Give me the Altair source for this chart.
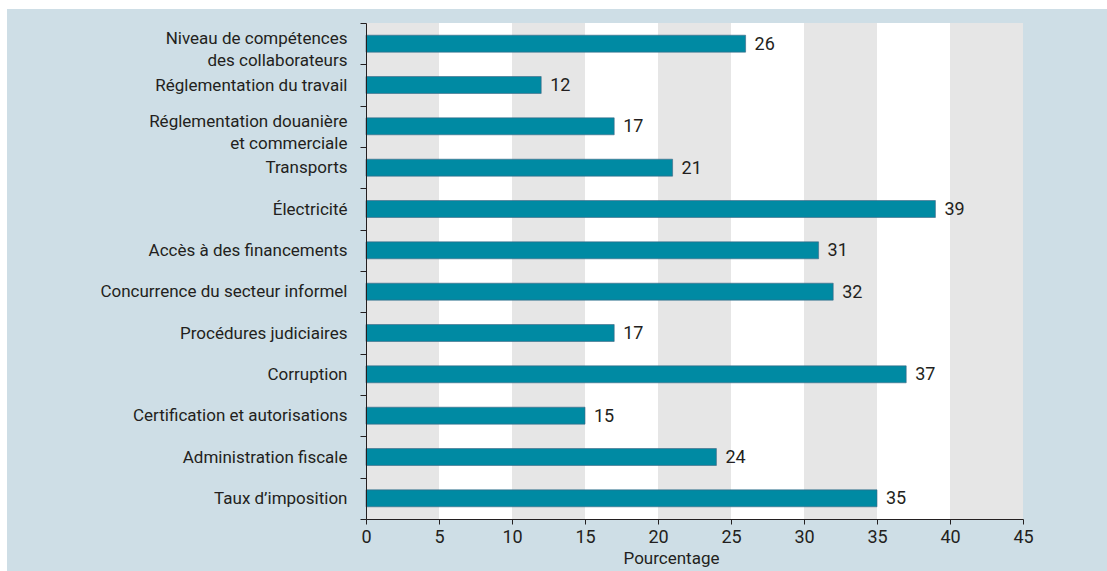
import altair as alt
import pandas as pd

# Obstacles (top to bottom); "|" marks a line break in the axis label
categories = [
    "Niveau de compétences|des collaborateurs",
    "Réglementation du travail",
    "Réglementation douanière|et commerciale",
    "Transports",
    "Électricité",
    "Accès à des financements",
    "Concurrence du secteur informel",
    "Procédures judiciaires",
    "Corruption",
    "Certification et autorisations",
    "Administration fiscale",
    "Taux d’imposition",
]
values = [26, 12, 17, 21, 39, 31, 32, 17, 37, 15, 24, 35]

# Alternating vertical bands behind the bars
band_starts = [0, 5, 10, 15, 20, 25, 30, 35, 40]
band_ends = [5, 10, 15, 20, 25, 30, 35, 40, 45]
band_kind = ["gris", "blanc", "gris", "blanc", "gris", "blanc", "gris", "blanc", "gris"]

x_ticks = [0, 5, 10, 15, 20, 25, 30, 35, 40, 45]

FONT = "Roboto"
TEXT = "#231f20"
BAR = "#008aa3"
PANEL = "#cedee6"

bars_df = pd.DataFrame({"categorie": categories, "pct": values})
bands_df = pd.DataFrame({"debut": band_starts, "fin": band_ends, "teinte": band_kind})

x_scale = alt.Scale(domain=[0, 45], nice=False, zero=True)
x_axis = alt.Axis(
    values=x_ticks,
    title="Pourcentage",
    grid=False,
    domainColor=TEXT,
    tickColor=TEXT,
    tickSize=5,
    labelPadding=4,
    labelFlush=False,
    labelFontSize=18,
    labelColor=TEXT,
    titleFontSize=17,
    titleFontWeight="normal",
    titleColor=TEXT,
    titleX=305,
    titleY=44,
    titleBaseline="alphabetic",
    zindex=1,
)

y_enc = alt.Y(
    "categorie:N",
    sort=categories,
    scale=alt.Scale(paddingInner=0, paddingOuter=0),
    axis=alt.Axis(
        title=None,
        labelExpr="split(datum.label, '|')",
        labelFontSize=17,
        labelLineHeight=22,
        labelLimit=0,
        labelColor=TEXT,
        labelPadding=13,
        labelBaseline={
            "condition": {"test": "indexof(datum.label, '|') >= 0", "value": "alphabetic"},
            "value": "middle",
        },
        tickSize=6,
        tickBand="extent",
        tickColor=TEXT,
        domainColor=TEXT,
        zindex=1,
    ),
)

# Light blue panel framing the whole figure
panel = alt.Chart(alt.Data(values=[{"p": 1}])).mark_rect(fill=PANEL).encode(
    x=alt.value(-359), x2=alt.value(741), y=alt.value(-14), y2=alt.value(548)
)

bands = alt.Chart(bands_df).mark_rect().encode(
    x=alt.X("debut:Q", scale=x_scale, axis=x_axis),
    x2="fin:Q",
    color=alt.Color(
        "teinte:N",
        scale=alt.Scale(domain=["gris", "blanc"], range=["#e6e6e6", "#ffffff"]),
        legend=None,
    ),
)

bars = alt.Chart(bars_df).mark_bar(
    height={"band": 0.41}, color=BAR, stroke="#3f6583", strokeWidth=0.6
).encode(
    x=alt.X("pct:Q", scale=x_scale, axis=x_axis),
    y=y_enc,
)

labels = alt.Chart(bars_df).mark_text(
    align="left", baseline="middle", dx=9, dy=1, fontSize=18, color=TEXT, font=FONT
).encode(
    x=alt.X("pct:Q", scale=x_scale, axis=x_axis),
    y=y_enc,
    text="pct:Q",
)

chart = (
    alt.layer(panel, bands, bars, labels)
    .properties(
        width=657,
        height=496,
        autosize=alt.AutoSizeParams(type="none"),
        padding={"left": 366, "top": 23, "right": 84, "bottom": 52},
        background="white",
    )
    .configure_view(stroke=None)
    .configure_axis(labelFont=FONT, titleFont=FONT)
    .configure_text(font=FONT)
)

chart.save("out.html", embed_options={"renderer": "svg", "actions": False})
